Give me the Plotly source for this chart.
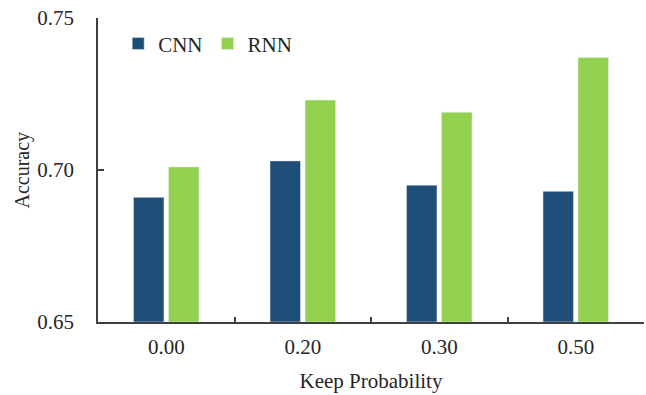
import plotly.graph_objects as go

categories = ["0.00", "0.20", "0.30", "0.50"]
cnn = [0.691, 0.703, 0.695, 0.693]
rnn = [0.701, 0.723, 0.719, 0.737]
y_ticks = [0.65, 0.70, 0.75]
y_tick_labels = ["0.65", "0.70", "0.75"]
BASE = 0.65

FONT = "Liberation Serif, Times New Roman, serif"
AXIS_COLOR = "#404040"
TEXT_COLOR = "#262626"

fig = go.Figure()
fig.add_trace(go.Bar(name="CNN", x=categories, y=[v - BASE for v in cnn],
                     base=BASE, marker_color="#1F4E79"))
fig.add_trace(go.Bar(name="RNN", x=categories, y=[v - BASE for v in rnn],
                     base=BASE, marker_color="#92D050"))

fig.update_layout(
    width=646, height=395,
    margin=dict(l=98, r=2, t=18, b=73),
    paper_bgcolor="white", plot_bgcolor="white",
    barmode="group", bargap=0.487, bargroupgap=0.13,
    font=dict(family=FONT, size=21, color=TEXT_COLOR),
    showlegend=True,
    legend=dict(orientation="h", x=0.037, y=0.915, xanchor="left", yanchor="middle",
                font=dict(size=21, family=FONT, color=TEXT_COLOR),
                bgcolor="rgba(0,0,0,0)", itemwidth=30, traceorder="normal"),
    xaxis=dict(
        title=dict(text="Keep Probability", font=dict(size=21)),
        automargin=False,
        showline=True, linecolor=AXIS_COLOR, linewidth=1.5,
        ticks="inside", ticklen=5, tickcolor=AXIS_COLOR, tickwidth=1.5,
        tickson="boundaries", ticklabelstandoff=5,
        showgrid=False, zeroline=False,
    ),
    yaxis=dict(
        automargin=False,
        range=[0.65, 0.75], tickvals=y_ticks, ticktext=y_tick_labels,
        showline=True, linecolor=AXIS_COLOR, linewidth=1.5,
        ticks="inside", ticklen=6, tickcolor=AXIS_COLOR, tickwidth=1.5,
        ticklabelstandoff=18,
        showgrid=False, zeroline=False,
    ),
    annotations=[dict(
        text="Accuracy", textangle=-90, font=dict(size=20, family=FONT, color=TEXT_COLOR),
        xref="paper", yref="paper", x=-0.14, y=0.5, xanchor="center", yanchor="middle",
        showarrow=False,
    )],
)

fig.write_html("out.html", config={"displayModeBar": False},
               post_script="document.body.style.margin='0';")
